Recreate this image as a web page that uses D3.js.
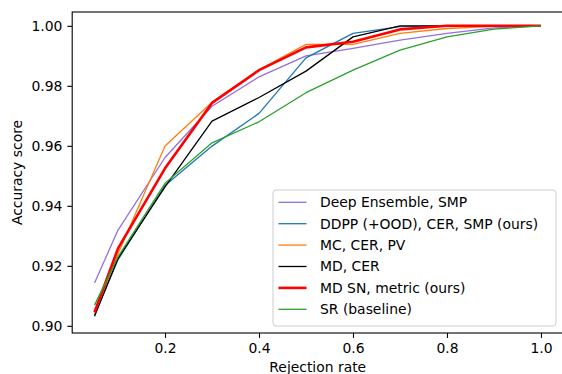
<!DOCTYPE html>
<html>
<head>
<meta charset="utf-8">
<script src="https://cdn.jsdelivr.net/npm/d3@7"></script>
<style>
  body { margin: 0; background: #fff; }
  text { font-family: "DejaVu Sans", sans-serif; fill: #000; }
</style>
</head>
<body>
<div class="svg-container"></div>
<script>
// rejection rates (x) and accuracy per method
const rejection = [0.05, 0.1, 0.2, 0.3, 0.4, 0.5, 0.6, 0.7, 0.8, 0.9, 1.0];

const deepEnsemble = [0.9143, 0.9319, 0.9561, 0.9732, 0.9830, 0.9900, 0.9925, 0.9952, 0.9975, 0.9993, 1.0000];
const ddpp        = [0.9036, 0.9220, 0.9468, 0.9599, 0.9708, 0.9893, 0.9975, 0.9997, 1.0000, 1.0000, 1.0000];
const mcCer       = [0.9040, 0.9240, 0.9599, 0.9745, 0.9853, 0.9938, 0.9938, 0.9975, 0.9991, 0.9998, 1.0000];
const mdCer       = [0.9032, 0.9225, 0.9463, 0.9682, 0.9761, 0.9849, 0.9963, 1.0000, 1.0000, 1.0000, 1.0000];
const mdSn        = [0.9045, 0.9258, 0.9525, 0.9743, 0.9852, 0.9928, 0.9947, 0.9988, 1.0000, 1.0000, 1.0000];
const srBaseline  = [0.9069, 0.9230, 0.9475, 0.9610, 0.9680, 0.9777, 0.9852, 0.9919, 0.9963, 0.9989, 1.0000];

const seriesNames = [
  "Deep Ensemble, SMP",
  "DDPP (+OOD), CER, SMP (ours)",
  "MC, CER, PV",
  "MD, CER",
  "MD SN, metric (ours)",
  "SR (baseline)"
];
const seriesValues = [deepEnsemble, ddpp, mcCer, mdCer, mdSn, srBaseline];
const seriesColors = ["#9370db", "#1f77b4", "#ff7f0e", "#000000", "#ff0000", "#2ca02c"];
const seriesWidths = [1.3, 1.3, 1.3, 1.3, 2.6, 1.3];

const xTicks = [0.2, 0.4, 0.6, 0.8, 1.0];
const yTicks = [0.90, 0.92, 0.94, 0.96, 0.98, 1.00];

const width = 562, height = 374;
const margin = {top: 12, right: -1.3, bottom: 41, left: 72.2};
const fontSize = 13.9;

const svg = d3.select(".svg-container").append("svg")
  .attr("width", width)
  .attr("height", height);

const xScale = d3.scaleLinear().domain([0.0025, 1.0475]).range([margin.left, width - margin.right]);
const yScale = d3.scaleLinear().domain([0.8976, 1.0046]).range([height - margin.bottom, margin.top]);

const plotLeft = margin.left, plotRight = width - margin.right;
const plotTop = margin.top, plotBottom = height - margin.bottom;

// axes
const xAxis = d3.axisBottom(xScale).tickValues(xTicks).tickFormat(d3.format(".1f")).tickSize(4.9).tickPadding(4.9).tickSizeOuter(0);
const yAxis = d3.axisLeft(yScale).tickValues(yTicks).tickFormat(d3.format(".2f")).tickSize(4.9).tickPadding(4.9).tickSizeOuter(0);

const gx = svg.append("g")
  .attr("transform", `translate(0,${plotBottom})`)
  .call(xAxis);
const gy = svg.append("g")
  .attr("transform", `translate(${plotLeft},0)`)
  .call(yAxis);

[gx, gy].forEach(g => {
  g.select(".domain").remove();
  g.selectAll("line").attr("stroke", "#000").attr("stroke-width", 1.1);
  g.selectAll("text").style("font-family", '"DejaVu Sans", sans-serif').style("font-size", fontSize + "px").attr("fill", "#000");
});

// lines
const clip = svg.append("clipPath").attr("id", "plot-clip")
  .append("rect")
  .attr("x", plotLeft).attr("y", plotTop)
  .attr("width", plotRight - plotLeft).attr("height", plotBottom - plotTop);

const line = d3.line()
  .x((d, i) => xScale(rejection[i]))
  .y(d => yScale(d));

seriesValues.forEach((vals, k) => {
  svg.append("path")
    .datum(vals)
    .attr("d", line)
    .attr("clip-path", "url(#plot-clip)")
    .style("fill", "none")
    .style("stroke", seriesColors[k])
    .style("stroke-width", seriesWidths[k])
    .style("stroke-linejoin", "round");
});

// frame
svg.append("rect")
  .attr("x", plotLeft).attr("y", plotTop)
  .attr("width", plotRight - plotLeft).attr("height", plotBottom - plotTop)
  .style("fill", "none")
  .style("stroke", "#000")
  .style("stroke-width", 1.1);

// axis titles
svg.append("text")
  .attr("x", (plotLeft + plotRight) / 2)
  .attr("y", plotBottom + 39)
  .style("text-anchor", "middle")
  .style("font-size", fontSize + "px")
  .text("Rejection rate");

svg.append("text")
  .attr("transform", `translate(21.5,${(plotTop + plotBottom) / 2}) rotate(-90)`)
  .style("text-anchor", "middle")
  .style("font-size", fontSize + "px")
  .text("Accuracy score");

// legend
const legend = {x: 273, y: 190, w: 283, h: 136, row: 21.4};
const lg = svg.append("g");
lg.append("rect")
  .attr("x", legend.x).attr("y", legend.y)
  .attr("width", legend.w).attr("height", legend.h)
  .attr("rx", 3)
  .style("fill", "#fff").style("fill-opacity", 0.8)
  .style("stroke", "#cccccc").style("stroke-width", 1);

seriesNames.forEach((name, k) => {
  const cy = legend.y + 12.3 + k * legend.row;
  lg.append("line")
    .attr("x1", legend.x + 5.5).attr("x2", legend.x + 33.5)
    .attr("y1", cy).attr("y2", cy)
    .style("stroke", seriesColors[k])
    .style("stroke-width", seriesWidths[k]);
  lg.append("text")
    .attr("x", legend.x + 47)
    .attr("y", cy)
    .attr("dy", "0.35em")
    .style("font-size", fontSize + "px")
    .text(name);
});
</script>
</body>
</html>
